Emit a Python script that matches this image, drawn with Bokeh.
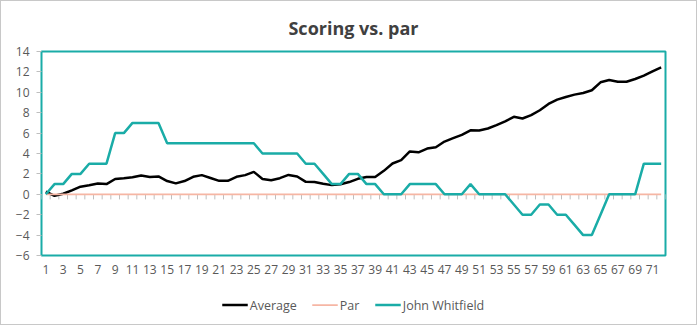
from bokeh.plotting import figure
from bokeh.models import Range1d, LinearAxis, FixedTicker, Legend, LegendItem, Title
from bokeh.layouts import column
from bokeh.embed import file_html
from bokeh.resources import INLINE

# ---- data ----
holes = list(range(1, 73))
average = [0.27, -0.15, 0.05, 0.38, 0.75, 0.88, 1.05, 1.0, 1.5, 1.58,
           1.68, 1.85, 1.7, 1.75, 1.3, 1.07, 1.3, 1.72, 1.88, 1.6,
           1.32, 1.32, 1.72, 1.88, 2.2, 1.5, 1.38, 1.58, 1.9, 1.75,
           1.22, 1.2, 1.03, 0.9, 0.98, 1.2, 1.52, 1.7, 1.7, 2.3,
           3.02, 3.35, 4.2, 4.12, 4.48, 4.62, 5.17, 5.5, 5.82, 6.27,
           6.26, 6.45, 6.78, 7.15, 7.6, 7.43, 7.76, 8.24, 8.86, 9.28,
           9.54, 9.77, 9.93, 10.2, 10.98, 11.2, 11.04, 11.04, 11.3, 11.63,
           12.05, 12.44]
par = [0] * 72
john = [0, 1, 1, 2, 2, 3, 3, 3, 6, 6,
        7, 7, 7, 7, 5, 5, 5, 5, 5, 5,
        5, 5, 5, 5, 5, 4, 4, 4, 4, 4,
        3, 3, 2, 1, 1, 2, 2, 1, 1, 0,
        0, 0, 1, 1, 1, 1, 0, 0, 0, 1,
        0, 0, 0, 0, -1, -2, -2, -1, -1, -2,
        -2, -3, -4, -4, -2, 0, 0, 0, 0, 3,
        3, 3]
series_names = ["Average", "Par", "John Whitfield"]
x_tick_labels = list(range(1, 72, 2))
y_ticks = list(range(-6, 15, 2))
title_text = "Scoring vs. par"

TEAL = "#1aaca7"
PAR_C = "#f6b6a4"
GREY_TXT = "#595959"
FONT = "Open Sans"

p = figure(width=695, height=284,
           x_range=Range1d(0.5, len(holes) + 0.5), y_range=Range1d(-6, 14),
           output_backend="svg", toolbar_location=None,
           x_axis_location=None, y_axis_location=None,
           min_border_left=40, min_border_right=31,
           min_border_top=49, min_border_bottom=30)
p.background_fill_color = "white"
p.border_fill_color = "white"
p.outline_line_color = TEAL
p.outline_line_width = 2
p.xgrid.visible = False
p.ygrid.visible = False

p.title = Title(text=title_text, align="center", text_font=FONT,
                text_font_size="18px", text_font_style="bold",
                text_color="#404040", standoff=24, offset=-5)

# y axis
yaxis = LinearAxis(ticker=FixedTicker(ticks=y_ticks),
                   axis_line_color=None, major_tick_out=5, major_tick_in=0,
                   major_tick_line_color="#bfbfbf", minor_tick_line_color=None,
                   major_label_text_font=FONT, major_label_text_font_size="12px",
                   major_label_text_color=GREY_TXT, major_label_standoff=7)
p.add_layout(yaxis, "left")

# category labels at bottom
label_axis = LinearAxis(ticker=FixedTicker(ticks=x_tick_labels),
                        axis_line_color=None, major_tick_line_color=None,
                        major_tick_out=0, major_tick_in=0, minor_tick_line_color=None,
                        major_label_text_font=FONT, major_label_text_font_size="12px",
                        major_label_text_color=GREY_TXT, major_label_standoff=9)
p.add_layout(label_axis, "below")

# category boundary tick marks hanging below the zero line
bounds = [h - 0.5 for h in holes] + [holes[-1] + 0.5]
p.segment(x0=bounds, y0=[0] * len(bounds), x1=bounds, y1=[-0.5] * len(bounds),
          line_color="#bfbfbf", line_width=1)

p.line(holes, average, line_color="black", line_width=2.5)
p.line(holes, par, line_color=PAR_C, line_width=1.75)
p.line(holes, john, line_color=TEAL, line_width=2.5)

# ---- legend strip (same series, drawn out of view so only the legend shows) ----
lg = figure(width=695, height=39, x_range=Range1d(-10, -9), y_range=Range1d(-10, -9),
            output_backend="svg", toolbar_location=None,
            x_axis_location=None, y_axis_location=None,
            min_border=0)
lg.outline_line_color = None
lg.background_fill_color = "white"
lg.border_fill_color = "white"
lg.xgrid.visible = False
lg.ygrid.visible = False
l_avg = lg.line(holes, average, line_color="black", line_width=2.5)
l_par = lg.line(holes, par, line_color=PAR_C, line_width=1.75)
l_john = lg.line(holes, john, line_color=TEAL, line_width=2.5)

legend = Legend(items=[LegendItem(label=series_names[0], renderers=[l_avg]),
                       LegendItem(label=series_names[1], renderers=[l_par]),
                       LegendItem(label=series_names[2], renderers=[l_john])],
                orientation="horizontal", location="center",
                border_line_color=None, background_fill_alpha=0,
                label_text_font=FONT, label_text_font_size="12.5px",
                label_text_color=GREY_TXT, glyph_width=26, glyph_height=14,
                label_standoff=2, spacing=15, padding=0, margin=0)
lg.add_layout(legend)

layout = column(p, lg, spacing=0, styles={"border": "1px solid #c8c8c8"})

open("out.html", "w").write(file_html(layout, INLINE))
